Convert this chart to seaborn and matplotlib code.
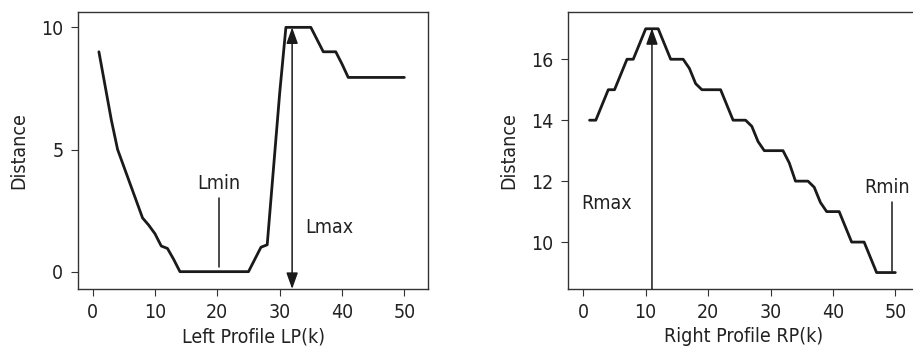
import numpy as np
import pandas as pd
import matplotlib
matplotlib.use('Agg')
import matplotlib.pyplot as plt
import seaborn as sns

# profile index k
k = list(range(1, 51))

# left profile LP(k)
lp = [9.0, 7.6, 6.2, 5.0, 4.3, 3.6, 2.9, 2.2, 1.9, 1.55,
      1.05, 0.95, 0.5, 0.0, 0.0, 0.0, 0.0, 0.0, 0.0, 0.0,
      0.0, 0.0, 0.0, 0.0, 0.0, 0.5, 1.0, 1.1, 4.2, 7.3,
      10.0, 10.0, 10.0, 10.0, 10.0, 9.5, 9.0, 9.0, 9.0, 8.5,
      7.95, 7.95, 7.95, 7.95, 7.95, 7.95, 7.95, 7.95, 7.95, 7.95]

# right profile RP(k)
rp = [14.0, 14.0, 14.5, 15.0, 15.0, 15.5, 16.0, 16.0, 16.5, 17.0,
      17.0, 17.0, 16.5, 16.0, 16.0, 16.0, 15.7, 15.2, 15.0, 15.0,
      15.0, 15.0, 14.5, 14.0, 14.0, 14.0, 13.8, 13.3, 13.0, 13.0,
      13.0, 13.0, 12.6, 12.0, 12.0, 12.0, 11.8, 11.3, 11.0, 11.0,
      11.0, 10.5, 10.0, 10.0, 10.0, 9.5, 9.0, 9.0, 9.0, 9.0]

df = pd.DataFrame({'k': k, 'LP': lp, 'RP': rp})

sns.set_style('ticks')
plt.rcParams['font.family'] = ['DejaVu Sans']
plt.rcParams['font.stretch'] = 'condensed'
plt.rcParams.update({'font.size': 14,
                     'axes.edgecolor': '#333333',
                     'axes.linewidth': 1.0,
                     'xtick.color': '#333333',
                     'ytick.color': '#333333',
                     'xtick.labelcolor': '#222222',
                     'ytick.labelcolor': '#222222',
                     'xtick.major.size': 4.8,
                     'ytick.major.size': 4.8,
                     'xtick.major.pad': 5,
                     'ytick.major.pad': 6,
                     'text.color': '#222222',
                     'axes.labelcolor': '#222222'})

fig = plt.figure(figsize=(9.13, 3.56), dpi=100)
ax1 = fig.add_axes([0.0858, 0.1882, 0.3830, 0.7789])
ax2 = fig.add_axes([0.6225, 0.1882, 0.3841, 0.7789])

line_kw = dict(color='#1a1a1a', linewidth=2.0)
ann_col = '#1a1a1a'

# left panel
sns.lineplot(data=df, x='k', y='LP', ax=ax1, **line_kw)
ax1.set_xlim(-2.3, 53.8)
ax1.set_ylim(-0.71, 10.64)
ax1.set_xticks([0, 10, 20, 30, 40, 50])
ax1.set_yticks([0, 5, 10])
ax1.set_xlabel('Left Profile LP(k)', fontsize=14, labelpad=4)
ax1.set_ylabel('Distance', fontsize=14, labelpad=9)
ax1.tick_params(labelsize=14)

ax1.text(20.2, 3.6, 'Lmin', ha='center', va='center', fontsize=14)
ax1.plot([20.2, 20.2], [0.2, 3.0], color=ann_col, linewidth=1.1)
ax1.text(37.9, 1.8, 'Lmax', ha='center', va='center', fontsize=14)
ax1.annotate('', xy=(32, 10), xytext=(32, -0.71),
             arrowprops=dict(arrowstyle='<|-|>,head_length=0.7,head_width=0.25',
                             color=ann_col, lw=1.1, shrinkA=0, shrinkB=0))

# right panel
sns.lineplot(data=df, x='k', y='RP', ax=ax2, **line_kw)
ax2.set_xlim(-2.4, 53.8)
ax2.set_ylim(8.46, 17.56)
ax2.set_xticks([0, 10, 20, 30, 40, 50])
ax2.set_yticks([10, 12, 14, 16])
ax2.set_xlabel('Right Profile RP(k)', fontsize=14, labelpad=4)
ax2.set_ylabel('Distance', fontsize=14, labelpad=9)
ax2.tick_params(labelsize=14)

ax2.text(3.7, 11.27, 'Rmax', ha='center', va='center', fontsize=14)
ax2.annotate('', xy=(11, 17.02), xytext=(11, 8.46),
             arrowprops=dict(arrowstyle='-|>,head_length=0.7,head_width=0.25',
                             color=ann_col, lw=1.1, shrinkA=0, shrinkB=0))
ax2.text(52.4, 11.8, 'Rmin', ha='right', va='center', fontsize=14)
ax2.plot([49.4, 49.4], [9.05, 11.32], color=ann_col, linewidth=1.1)

fig.savefig('out.png', dpi=100)
